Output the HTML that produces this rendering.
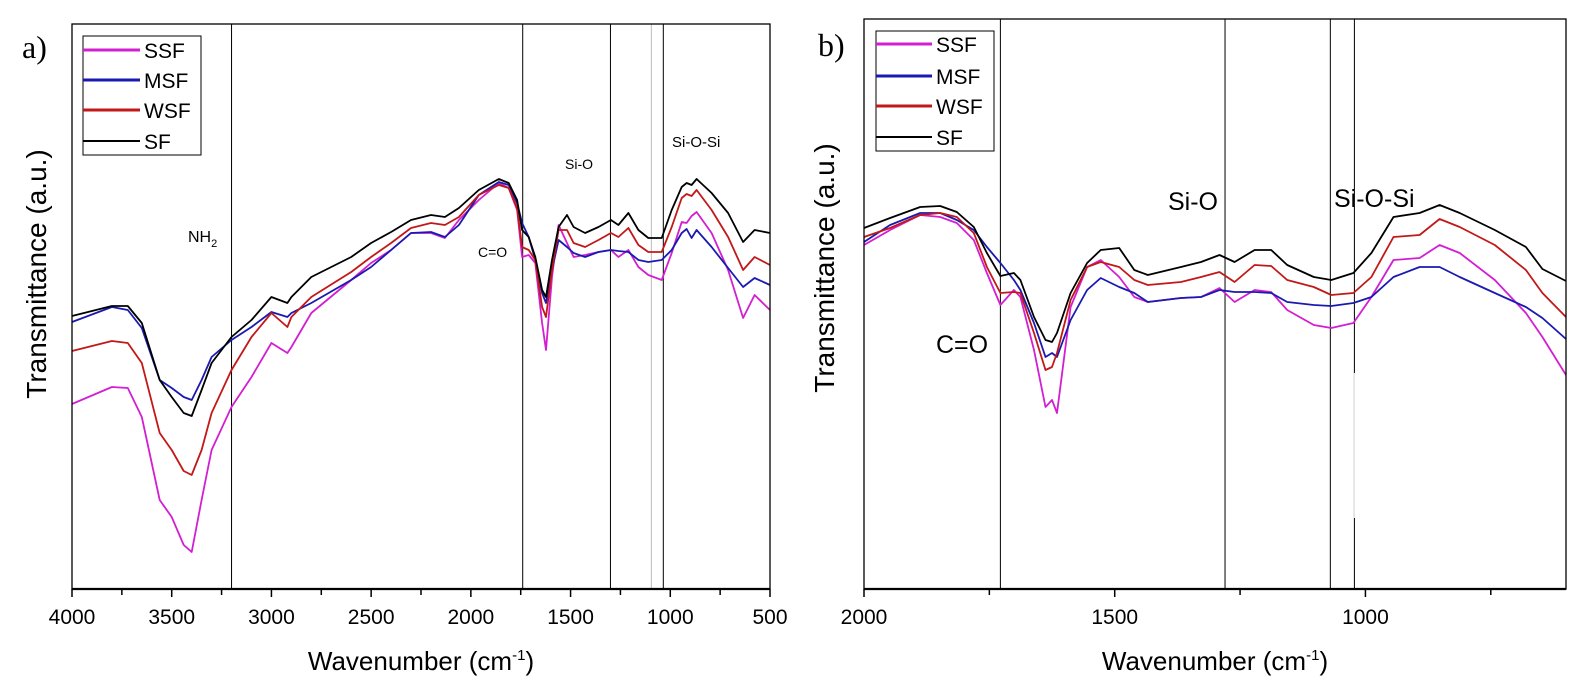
<!DOCTYPE html>
<html><head><meta charset="utf-8">
<style>
html,body{margin:0;padding:0;background:#fff;}
svg{display:block;font-family:"Liberation Sans",Arial,sans-serif;}
</style></head>
<body>
<svg id="fig" width="1593" height="691" viewBox="0 0 1593 691"></svg>
<script>
// ---------- Panel a data ----------
const wnA = [4000,3800,3720,3650,3560,3500,3440,3400,3350,3300,3200,3100,3000,2920,2900,2800,2600,2500,2400,2300,2200,2130,2060,1960,1860,1810,1768,1743,1710,1677,1643,1623,1593,1560,1518,1485,1427,1360,1298,1260,1210,1160,1110,1043,993,943,918,893,868,793,710,635,577,500];
const sfA  = [273,283,283,266,209,192,176,173,199,226,252,269,292,286,292,312,332,346,357,369,374,372,381,399,410,406,389,359,352,332,299,292,329,362,374,362,356,362,369,364,376,359,351,351,379,402,406,404,410,396,376,347,359,356];
const wsfA = [238,248,246,226,156,139,118,114,139,176,219,252,276,262,272,292,317,332,346,361,366,364,372,394,404,401,381,342,339,329,282,272,319,359,359,346,342,349,356,352,361,344,337,337,362,391,395,393,399,379,352,319,332,324];
const msfA = [267,282,279,261,209,201,192,189,209,232,249,262,277,272,276,286,309,322,339,356,357,352,364,394,407,404,386,366,352,329,296,286,319,349,342,336,332,337,339,338,337,329,327,329,339,356,360,351,359,342,321,302,311,304];
const ssfA = [185,202,201,172,89,72,44,37,89,139,182,212,246,236,242,276,309,326,339,356,356,351,369,389,406,401,379,332,334,326,266,239,312,364,346,332,334,337,339,332,339,322,314,309,336,367,366,373,377,356,319,271,294,279];
const ticksA = [4000,3500,3000,2500,2000,1500,1000,500];
const minorA = [3750,3250,2750,2250,1750,1250,750];
const vlinesA = [3200,1740,1300,1035];
const grayA = [1095];
// ---------- Panel b data ----------
const wnB = [2000,1948,1888,1848,1815,1781,1755,1728,1701,1688,1661,1638,1625,1615,1588,1555,1528,1491,1461,1434,1368,1328,1291,1261,1221,1188,1156,1103,1068,1024,988,944,892,852,812,742,680,647,600];
const sfB  = [361,371,382,383,377,362,336,313,316,309,272,249,247,256,296,326,339,341,319,314,322,327,334,327,339,339,324,312,309,316,336,372,376,384,376,359,342,320,308];
const wsfB = [352,361,374,376,372,356,322,296,297,296,256,219,222,236,289,322,327,322,309,304,307,312,317,307,324,323,309,302,294,296,312,352,354,370,362,344,319,296,272];
const msfB = [347,364,376,376,369,359,342,326,309,299,266,232,236,232,269,299,311,302,296,287,291,292,299,297,297,296,287,284,283,286,292,312,322,322,312,296,282,271,250];
const ssfB = [344,359,374,372,366,349,316,284,299,292,239,182,189,176,282,322,329,312,292,287,291,292,301,287,299,297,279,264,261,266,292,329,331,344,336,309,276,252,214];
const ticksB = [2000,1500,1000];
const minorB = [1750,1250,750];
const vlinesB = [1728,1280,1070,1022];

const NS = "http://www.w3.org/2000/svg";
const svg = document.getElementById('fig');
function mk(tag, attrs, parent){
  const e = document.createElementNS(NS, tag);
  for (const k in attrs) e.setAttribute(k, attrs[k]);
  (parent||svg).appendChild(e);
  return e;
}
const colors = {SSF:'#d21fd2', MSF:'#1a1ab0', WSF:'#c21818', SF:'#000000'};

function panel(cfg){
  const g = mk('g', {});
  
  
  const xs = w => cfg.x0 + (cfg.d0 - w) / (cfg.d0 - cfg.d1) * (cfg.x1 - cfg.x0);
  const ys = v => cfg.yb - v / cfg.vmax * (cfg.yb - cfg.yt);
  cfg.vlines.forEach(w => {
    const l = mk('line', {x1:xs(w), x2:xs(w), y1:cfg.yt, y2:cfg.yb, stroke:'#000', 'stroke-width':1}, g);
    
    
  });
  (cfg.gray||[]).forEach(w => {
    const l = mk('line', {x1:xs(w), x2:xs(w), y1:cfg.yt, y2:cfg.yb, stroke:'#bbb', 'stroke-width':1}, g);
    
    
  });
  const order = ['SSF','MSF','WSF','SF'];
  order.forEach(s => {
    const vals = cfg.series[s];
    const d = cfg.wn.map((w,i) => (i?'L':'M') + xs(w).toFixed(1) + ',' + ys(vals[i]).toFixed(1)).join(' ');
    const p = mk('path', {d:d, fill:'none', stroke:colors[s], 'stroke-width':1.8, 'stroke-linejoin':'round'}, g);
    
    
  });
  const f = mk('rect', {x:cfg.x0, y:cfg.yt, width:cfg.x1-cfg.x0, height:cfg.yb-cfg.yt, fill:'none', stroke:'#000', 'stroke-width':1.3}, g);
  
  
  mk('line', {x1:cfg.x0, x2:cfg.x1, y1:cfg.yb, y2:cfg.yb, stroke:'#000', 'stroke-width':2.2}, g);
  cfg.ticks.forEach(w => {
    mk('line', {x1:xs(w), x2:xs(w), y1:cfg.yb, y2:cfg.yb+8, stroke:'#000', 'stroke-width':1.5}, g);
    const t = mk('text', {x:xs(w), y:cfg.yb+35, 'font-size':21, 'text-anchor':'middle', fill:'#000'}, g);
    t.textContent = w;
    
    
  });
  cfg.minor.forEach(w => {
    mk('line', {x1:xs(w), x2:xs(w), y1:cfg.yb, y2:cfg.yb+6, stroke:'#000', 'stroke-width':1.5}, g);
  });
  const L = cfg.legend;
  const lb = mk('rect', {x:L.x, y:L.y, width:L.w, height:L.h, fill:'#fff', stroke:'#000', 'stroke-width':1}, g);
  
  
  order.forEach((s,i) => {
    const yy = L.rows[i];
    mk('line', {x1:L.x, x2:L.x+L.lw, y1:yy, y2:yy, stroke:colors[s], 'stroke-width':s==='SF'?2:3}, g);
    const t = mk('text', {x:L.x+L.lw+4, y:yy+8, 'font-size':21, fill:'#000'}, g);
    t.textContent = s;
    
    
  });
  const yt = mk('text', {x:0, y:0, 'font-size':28, 'text-anchor':'middle', fill:'#000', transform:'translate('+cfg.ytx+','+cfg.ytc+') rotate(-90)'}, g);
  yt.textContent = 'Transmittance (a.u.)';
  
  
  const xt = mk('text', {x:(cfg.x0+cfg.x1)/2, y:670, 'font-size':26, 'text-anchor':'middle', fill:'#000'}, g);
  xt.innerHTML = 'Wavenumber (cm<tspan font-size="15" dy="-10">-1</tspan><tspan dy="10">)</tspan>';
  
  
  const pl = mk('text', {x:cfg.lblx, y:cfg.lbly, 'font-size':32, 'font-family':'Liberation Serif, serif', fill:'#000'}, g);
  pl.textContent = cfg.label;
  
  
  cfg.ann.forEach(a => {
    const t = mk('text', {x:a[1], y:a[2], 'font-size':a[3], fill:'#000'}, g);
    t.innerHTML = a[0];
    
    
  });
  return {g, xs, ys};
}

panel({name:'panel-a', x0:72, x1:770, yt:24, yb:589, d0:4000, d1:500, vmax:565,
  wn:wnA, series:{SF:sfA, WSF:wsfA, MSF:msfA, SSF:ssfA}, ticks:ticksA, minor:minorA,
  vlines:vlinesA, gray:grayA,
  legend:{x:83, y:36, w:118, h:119, lw:57, rows:[50,80,110,141]},
  ytx:46, ytc:274, label:'a)', lblx:22, lbly:58,
  ann:[['NH<tspan font-size="11" dy="5">2</tspan>',188,242,16],['C=O',478,257,14],['Si-O',565,169,14],['Si-O-Si',672,147,15]]});

const pb = panel({name:'panel-b', x0:864, x1:1566, yt:19, yb:589, d0:2000, d1:600, vmax:570,
  wn:wnB, series:{SF:sfB, WSF:wsfB, MSF:msfB, SSF:ssfB}, ticks:ticksB, minor:minorB,
  vlines:vlinesB,
  legend:{x:876, y:31, w:118, h:120, lw:56, rows:[44,76,106,137]},
  ytx:834, ytc:268, label:'b)', lblx:818, lbly:56,
  ann:[['C=O',936,353,25],['Si-O',1168,210,25],['Si-O-Si',1334,207,25]]});
const gap = mk('line', {x1:pb.xs(1022), x2:pb.xs(1022), y1:373, y2:518, stroke:'#e6e6e6', 'stroke-width':1.2}, pb.g);


</script>
</body></html>
